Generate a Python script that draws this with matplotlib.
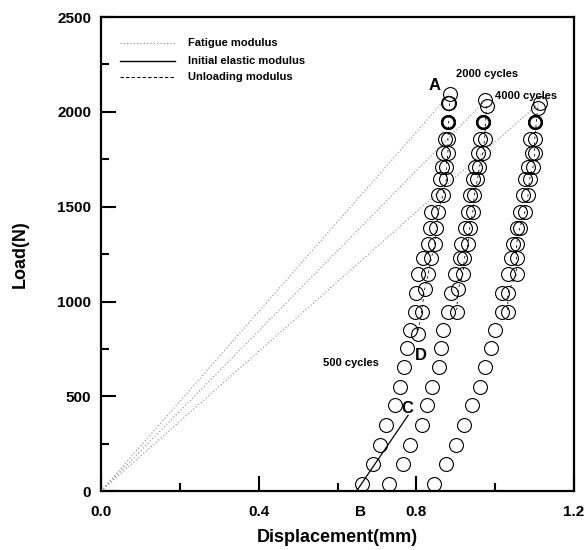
import matplotlib
matplotlib.use("Agg")
import matplotlib.pyplot as plt
from matplotlib.ticker import MultipleLocator

plt.rcParams['font.family'] = ['Liberation Sans', 'DejaVu Sans']
plt.rcParams['font.weight'] = 'bold'

# 500 cycles - loading branch
load_500 = [40, 145, 245, 350, 455, 550, 655, 755, 850, 945, 1045, 1145, 1230, 1305,
            1390, 1470, 1560, 1645, 1710, 1785, 1855, 1945, 2045, 2095]
disp_500 = [0.661, 0.690, 0.708, 0.724, 0.745, 0.758, 0.768, 0.777, 0.783, 0.796, 0.800,
            0.804, 0.818, 0.830, 0.834, 0.838, 0.855, 0.859, 0.864, 0.868, 0.872, 0.880,
            0.880, 0.885]
# 500 cycles - unloading branch
unload_500 = [2045, 1855, 1785, 1710, 1645, 1560, 1470, 1390, 1305, 1230, 1145, 1065, 945, 830]
udisp_500 = [0.884, 0.880, 0.880, 0.876, 0.876, 0.867, 0.855, 0.851, 0.847, 0.838, 0.830,
             0.821, 0.813, 0.804]

# 2000 cycles
load_2000 = [40, 145, 245, 350, 455, 550, 655, 755, 850, 945, 1045, 1145, 1230, 1305,
             1390, 1470, 1560, 1645, 1710, 1785, 1855, 1945, 2060]
disp_2000 = [0.731, 0.766, 0.785, 0.815, 0.828, 0.840, 0.858, 0.862, 0.868, 0.880, 0.889,
             0.897, 0.910, 0.914, 0.923, 0.931, 0.935, 0.944, 0.948, 0.956, 0.961, 0.969,
             0.973]
unload_2000 = [2030, 1855, 1785, 1710, 1645, 1560, 1470, 1390, 1305, 1230, 1145, 1065, 945]
udisp_2000 = [0.978, 0.973, 0.969, 0.960, 0.955, 0.947, 0.943, 0.935, 0.931, 0.922, 0.918,
              0.906, 0.902]

# 4000 cycles
load_4000 = [40, 145, 245, 350, 455, 550, 655, 755, 850, 945, 1045, 1145, 1230, 1305,
             1390, 1470, 1560, 1645, 1710, 1785, 1855, 1945, 2049]
disp_4000 = [0.845, 0.874, 0.900, 0.920, 0.940, 0.961, 0.973, 0.990, 0.999, 1.016, 1.016,
             1.032, 1.041, 1.045, 1.054, 1.062, 1.071, 1.075, 1.083, 1.092, 1.087, 1.100,
             1.113]
unload_4000 = [2023, 1855, 1785, 1710, 1645, 1560, 1470, 1390, 1305, 1230, 1145, 1045, 945]
udisp_4000 = [1.108, 1.100, 1.100, 1.096, 1.087, 1.083, 1.075, 1.062, 1.054, 1.054, 1.054,
              1.032, 1.032]

# modulus lines
fatigue_x = [[0.0, 0.885], [0.0, 0.975], [0.0, 1.113]]
fatigue_y = [[0, 2095], [0, 2060], [0, 2049]]
initial_x = [0.648, 0.779]
initial_y = [0, 400]

fig = plt.figure(figsize=(5.87, 5.5), dpi=100)
ax = fig.add_axes([0.172, 0.107, 0.806, 0.862])

for fx, fy in zip(fatigue_x, fatigue_y):
    ax.plot(fx, fy, color='#888888', lw=0.8, ls=(0, (1, 2)))
ax.plot(initial_x, initial_y, color='black', lw=0.9)
for ux, uy in [(udisp_500, unload_500), (udisp_2000, unload_2000), (udisp_4000, unload_4000)]:
    ax.plot(ux, uy, color='black', lw=0.6, ls=(0, (3, 4)))

mk = dict(marker='o', ms=10, mfc='none', mec='black', mew=0.8, ls='none')
for x, y in [(disp_500, load_500), (udisp_500, unload_500),
             (disp_2000, load_2000), (udisp_2000, unload_2000),
             (disp_4000, load_4000), (udisp_4000, unload_4000)]:
    ax.plot(x, y, **mk)

# bolder circles near the top of each curve
ax.plot([disp_500[21], disp_2000[21], disp_4000[21]],
        [load_500[21], load_2000[21], load_4000[21]],
        marker='o', ms=9, mfc='none', mec='black', mew=1.8, ls='none')

# legend
ax.plot([0.048, 0.188], [2365, 2365], color='#888888', lw=0.8, ls=(0, (1, 2)))
ax.plot([0.048, 0.188], [2270, 2270], color='black', lw=1.0)
ax.plot([0.048, 0.188], [2185, 2185], color='black', lw=0.8, ls=(0, (3, 2)))
ax.text(0.22, 2365, 'Fatigue modulus', fontsize=8, fontweight='bold', va='center')
ax.text(0.22, 2270, 'Initial elastic modulus', fontsize=8, fontweight='bold', va='center')
ax.text(0.22, 2185, 'Unloading modulus', fontsize=8, fontweight='bold', va='center')

# annotations
ax.text(0.83, 2140, 'A', fontsize=12, fontweight='bold', va='center')
ax.text(0.90, 2200, '2000 cycles', fontsize=8, fontweight='bold', va='center')
ax.text(1.0, 2084, '4000 cycles', fontsize=8, fontweight='bold', va='center')
ax.text(0.563, 675, '500 cycles', fontsize=8, fontweight='bold', va='center')
ax.text(0.797, 716, 'D', fontsize=12, fontweight='bold', va='center')
ax.text(0.763, 435, 'C', fontsize=12, fontweight='bold', va='center')
ax.text(0.659, -110, 'B', fontsize=11, fontweight='bold', ha='center', va='center')

ax.set_xlim(0, 1.2)
ax.set_ylim(0, 2500)
ax.xaxis.set_major_locator(MultipleLocator(0.4))
ax.xaxis.set_minor_locator(MultipleLocator(0.2))
ax.yaxis.set_major_locator(MultipleLocator(500))
ax.yaxis.set_minor_locator(MultipleLocator(250))
ax.set_xticks([0.0, 0.4, 0.8, 1.2])
ax.set_xticklabels(['0.0', '0.4', '0.8', '1.2'])
ax.tick_params(which='major', direction='in', length=11, width=1.5, labelsize=11)
ax.tick_params(axis='x', which='major', pad=10)
ax.tick_params(axis='y', which='major', pad=7)
ax.tick_params(which='minor', direction='in', length=6, width=1.5)
for lab in ax.get_xticklabels() + ax.get_yticklabels():
    lab.set_fontweight('bold')
for sp in ax.spines.values():
    sp.set_linewidth(1.6)

ax.set_xlabel('Displacement(mm)', fontsize=13, fontweight='bold')
ax.set_ylabel('Load(N)', fontsize=13, fontweight='bold')
ax.xaxis.set_label_coords(0.5, -0.08)
ax.yaxis.set_label_coords(-0.152, 0.5)

fig.savefig('out.png', dpi=100)
